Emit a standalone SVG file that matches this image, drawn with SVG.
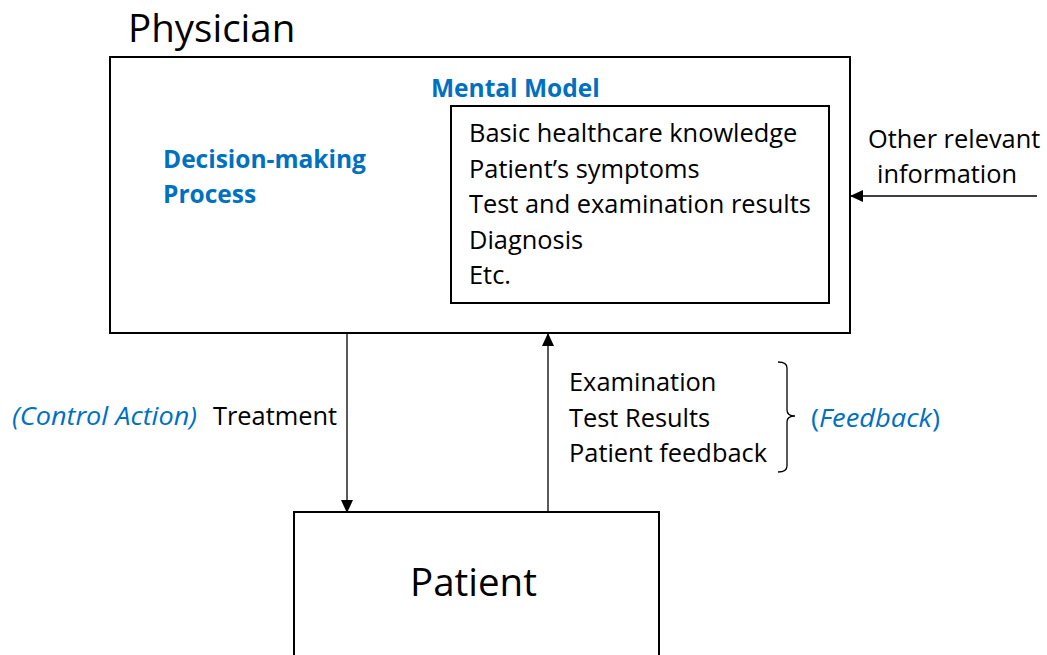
<svg xmlns="http://www.w3.org/2000/svg" width="1047" height="655" viewBox="0 0 1047 655">
<style>
text{font-family:"Open Sans","Liberation Sans",sans-serif;fill:#000}
.t{font-size:25.4px}
.bt{font-size:24.5px;font-weight:bold}
.big{font-size:38.5px}
.blue{fill:#0070C0}
.i{font-style:italic}
.box{fill:#fff;stroke:#000;stroke-width:2}
.ln{stroke:#000;stroke-width:1.3;fill:none}
</style>
<defs>
<marker id="ah" markerWidth="13" markerHeight="12" refX="12" refY="6" orient="auto" markerUnits="userSpaceOnUse">
<path d="M0,0 L13,6 L0,12 Z" fill="#000"/>
</marker>
</defs>
<g id="physician">
<text class="big" x="128" y="42">Physician</text>
<rect class="box" x="110" y="57" width="740" height="276"/>
<text class="bt blue" x="163" y="168">Decision-making</text>
<text class="bt blue" x="163" y="203">Process</text>
<text class="bt blue" x="431" y="97">Mental Model</text>
</g>
<g id="mental-model">
<rect class="box" x="451" y="106" width="378" height="197"/>
<text class="t" x="469" y="142">Basic healthcare knowledge</text>
<text class="t" x="469" y="178">Patient’s symptoms</text>
<text class="t" x="469" y="213">Test and examination results</text>
<text class="t" x="469" y="249">Diagnosis</text>
<text class="t" x="469" y="284">Etc.</text>
</g>
<g id="patient">
<rect class="box" x="294" y="512" width="365" height="160"/>
<text class="big" x="410" y="596">Patient</text>
</g>
<g id="other-info">
<text class="t" x="868" y="148">Other relevant</text>
<text class="t" x="877" y="183">information</text>
</g>
<g id="labels">
<text class="t i blue" x="12" y="425" textLength="185" lengthAdjust="spacingAndGlyphs">(Control Action)</text>
<text class="t" x="213" y="425">Treatment</text>
<text class="t" x="569" y="391">Examination</text>
<text class="t" x="569" y="427">Test Results</text>
<text class="t" x="569" y="462">Patient feedback</text>
<text class="t blue" x="811" y="427" textLength="129" lengthAdjust="spacingAndGlyphs">(<tspan class="i">Feedback</tspan>)</text>
</g>
<g id="connectors">
<line class="ln" x1="347" y1="334" x2="347" y2="512" marker-end="url(#ah)"/>
<line class="ln" x1="548" y1="512" x2="548" y2="334" marker-end="url(#ah)"/>
<line class="ln" x1="1037" y1="196" x2="851" y2="196" marker-end="url(#ah)" stroke="#555"/>
<path class="ln" d="M778,362 Q787,362 787,368 L787,410 Q787,416 795,416 Q787,416 787,422 L787,466 Q787,472 778,472"/>
</g>
</svg>
